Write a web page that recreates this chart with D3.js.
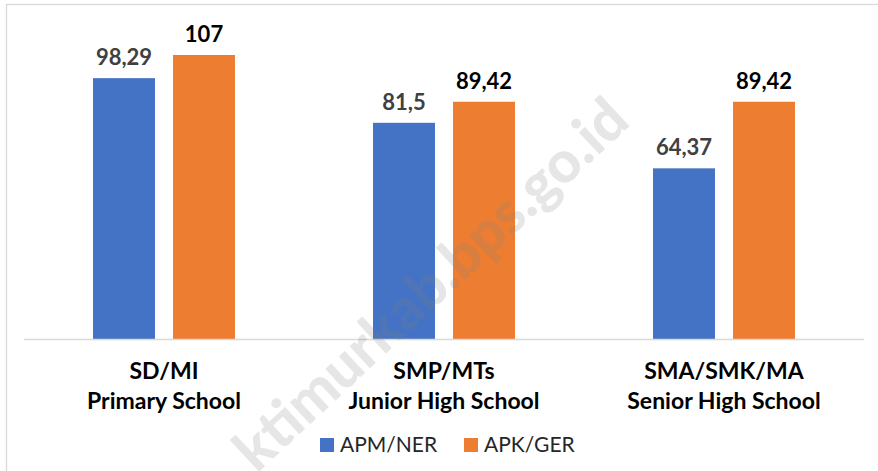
<!DOCTYPE html>
<html><head><meta charset="utf-8">
<script src="https://cdn.jsdelivr.net/npm/d3@7"></script>
<style>html,body{margin:0;padding:0;background:#fff;}svg{display:block;font-family:Lato,"Open Sans",sans-serif;}</style>
</head><body>
<svg id="c" width="878" height="471"></svg>
<script>
const categories = [["SD/MI","Primary School"],["SMP/MTs","Junior High School"],["SMA/SMK/MA","Senior High School"]];
const seriesNames = ["APM/NER","APK/GER"];
const apm = [98.29, 81.5, 64.37];
const apk = [107, 89.42, 89.42];
const apmLabels = ["98,29","81,5","64,37"];
const apkLabels = ["107","89,42","89,42"];
const colors = ["#4472C4","#ED7D31"];
const labelColors = ["#404040","#000000"];

const svg = d3.select("#c");
svg.append("rect").attr("x",6.5).attr("y",4.5).attr("width",900).attr("height",500)
  .attr("fill","#fff").attr("stroke","#d9d9d9").attr("stroke-width",1.3);

const x0 = d3.scaleBand().domain(d3.range(categories.length)).range([24,864]).padding(0);
const x1 = d3.scaleBand().domain([0,1]).range([69,211]).paddingInner(0.225).paddingOuter(0);
const y = d3.scaleLinear().domain([0,107]).range([339.5,55]);

const series = [apm, apk];
const labels = [apmLabels, apkLabels];

const g = svg.append("g");
series.forEach((vals, s) => {
  g.selectAll(".bar"+s).data(vals).enter().append("rect")
    .attr("x",(d,i)=>x0(i)+x1(s)).attr("width",x1.bandwidth())
    .attr("y",d=>y(d)).attr("height",d=>y(0)-y(d)).attr("fill",colors[s]);
  g.selectAll(".lab"+s).data(vals).enter().append("text")
    .attr("x",(d,i)=>x0(i)+x1(s)+x1.bandwidth()/2).attr("y",d=>y(d)-13)
    .attr("text-anchor","middle").attr("font-size",22).attr("font-weight","bold")
    .attr("fill",labelColors[s]).text((d,i)=>labels[s][i]);
});

svg.append("line").attr("x1",24).attr("x2",864).attr("y1",339.5).attr("y2",339.5)
  .attr("stroke","#d9d9d9").attr("stroke-width",1.5);

categories.forEach((c,i)=>{
  const cx = x0(i)+x0.bandwidth()/2;
  c.forEach((line,j)=>{
    svg.append("text").attr("x",cx).attr("y",379+30*j).attr("text-anchor","middle")
      .attr("font-size",23).attr("font-weight","bold").attr("fill","#000").text(line);
  });
});

const legX = [320, 464];
seriesNames.forEach((n,s)=>{
  svg.append("rect").attr("x",legX[s]).attr("y",438).attr("width",14).attr("height",14).attr("fill",colors[s]);
  svg.append("text").attr("x",legX[s]+20).attr("y",452).attr("font-size",21).attr("fill","#262626").text(n);
});

svg.append("text").attr("transform","translate(632,124) rotate(-43)")
  .attr("text-anchor","end").attr("font-size",58).attr("font-weight",900)
  .attr("fill","#808080").attr("fill-opacity",0.2).text("ktimurkab.bps.go.id");
</script>
</body></html>
